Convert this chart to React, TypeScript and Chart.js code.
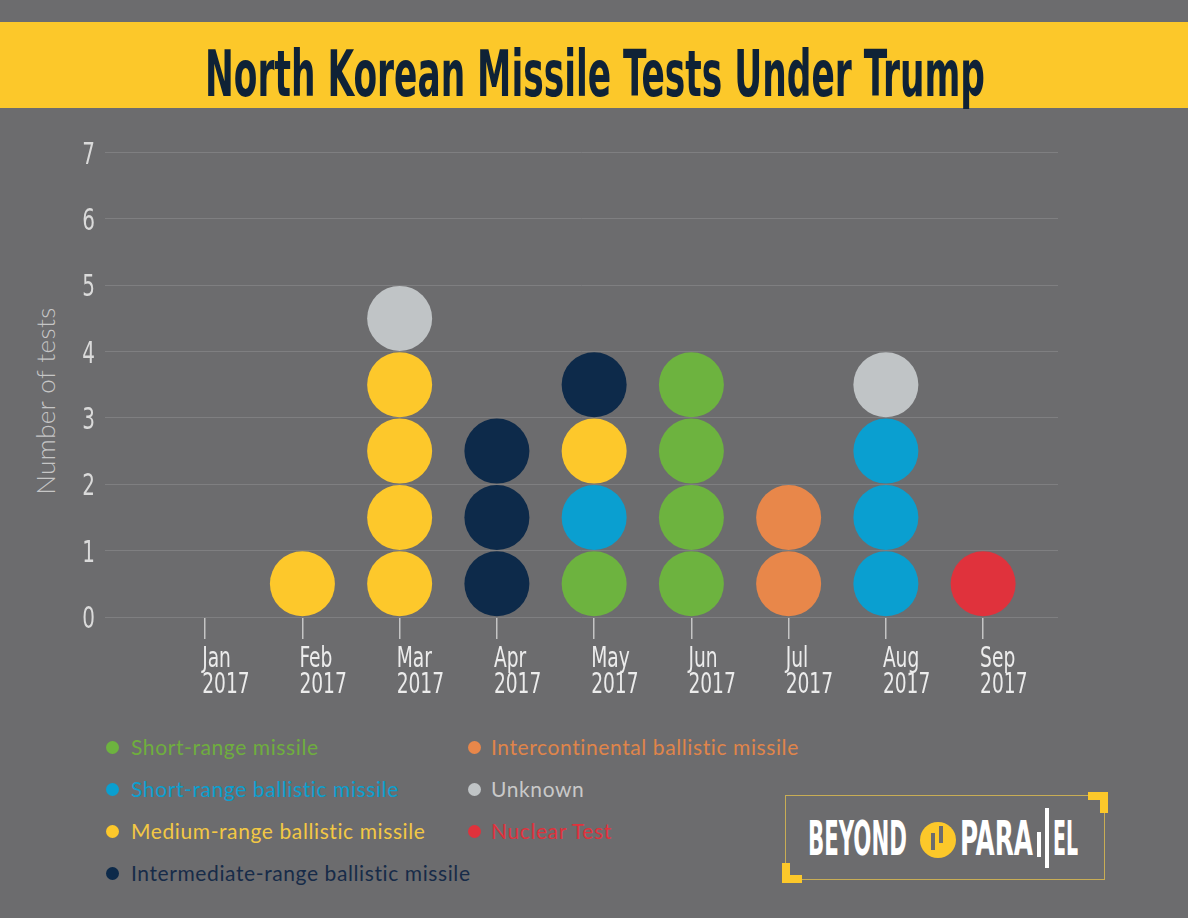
import React, { useEffect, useRef } from 'react';
import { Chart, registerables } from 'chart.js';

Chart.register(...registerables);

// months on the x axis, all in 2017
const months = ['Jan', 'Feb', 'Mar', 'Apr', 'May', 'Jun', 'Jul', 'Aug', 'Sep'];
const year = '2017';

// number of tests per month, per missile type (stacked bottom to top in this order)
const shortRange = [0, 0, 0, 0, 1, 4, 0, 0, 0];
const shortRangeBallistic = [0, 0, 0, 0, 1, 0, 0, 3, 0];
const mediumRange = [0, 1, 4, 0, 1, 0, 0, 0, 0];
const intermediateRange = [0, 0, 0, 3, 1, 0, 0, 0, 0];
const intercontinental = [0, 0, 0, 0, 0, 0, 2, 0, 0];
const unknown = [0, 0, 1, 0, 0, 0, 0, 1, 0];
const nuclear = [0, 0, 0, 0, 0, 0, 0, 0, 1];

const yMax = 7;

const series = [
  { label: 'Short-range missile', values: shortRange, color: '#6db33f', text: '#6fae3e' },
  { label: 'Short-range ballistic missile', values: shortRangeBallistic, color: '#0a9fd0', text: '#0b9fcf' },
  { label: 'Medium-range ballistic missile', values: mediumRange, color: '#fdc82b', text: '#f3c844' },
  { label: 'Intermediate-range ballistic missile', values: intermediateRange, color: '#0d2a4a', text: '#172b48' },
  { label: 'Intercontinental ballistic missile', values: intercontinental, color: '#e8874a', text: '#e0854a' },
  { label: 'Unknown', values: unknown, color: '#c0c4c6', text: '#c9c9c9' },
  { label: 'Nuclear Test', values: nuclear, color: '#e0323c', text: '#e0323c' },
];

const COND = '"Liberation Sans Narrow", "DejaVu Sans Condensed", "Roboto Condensed", "Liberation Sans", sans-serif';
const ROUND = 'Lato, "Open Sans", sans-serif';
const SQUEEZE = 0.74;

document.body.style.margin = '0';

function stackPoints() {
  const base = months.map(() => 0);
  return series.map((s) => {
    const pts: { x: number; y: number }[] = [];
    s.values.forEach((n, i) => {
      for (let k = 0; k < n; k++) {
        pts.push({ x: i, y: base[i] + 0.5 });
        base[i] += 1;
      }
    });
    return pts;
  });
}

function textWidth(text: string, font: string) {
  const ctx = document.createElement('canvas').getContext('2d')!;
  ctx.font = font;
  return ctx.measureText(text).width;
}

// squeezes a line of text horizontally to a given width
const Fit = ({ text, font, width, left, top, color, lh }) => {
  const k = width / textWidth(text, font);
  return (
    <div
      style={{
        position: 'absolute', left, top, font, color, lineHeight: lh + 'px',
        whiteSpace: 'nowrap', transform: `scaleX(${k})`, transformOrigin: 'left top',
      }}
    >
      {text}
    </div>
  );
};

// no condensed face is installed, so the tick labels are drawn narrowed by hand
const narrowTicks = {
  id: 'narrowTicks',
  afterDraw(chart) {
    const { ctx } = chart;
    const xs = chart.scales.x;
    const ys = chart.scales.y;
    const put = (text: string, x: number, y: number, align: CanvasTextAlign) => {
      ctx.save();
      ctx.translate(x, y);
      ctx.scale(SQUEEZE, 1);
      ctx.textAlign = align;
      ctx.textBaseline = 'alphabetic';
      ctx.fillText(text, 0, 0);
      ctx.restore();
    };
    ctx.save();
    ctx.fillStyle = '#ececec';
    ctx.font = `28px ${COND}`;
    xs.ticks.forEach((t) => {
      const px = xs.getPixelForValue(t.value);
      put(months[t.value], px - 3, xs.top + 50, 'left');
      put(year, px - 3, xs.top + 76, 'left');
    });
    ctx.fillStyle = '#dadada';
    ctx.font = `30px ${COND}`;
    ys.ticks.forEach((t) => {
      put(String(t.value), ys.right - 10, ys.getPixelForValue(t.value) + 11, 'right');
    });
    ctx.restore();
  },
};

const MissileChart = () => {
  const chartRef = useRef<HTMLCanvasElement>(null);

  useEffect(() => {
    const pts = stackPoints();
    const chart = new Chart(chartRef.current!, {
      type: 'scatter',
      data: {
        datasets: series.map((s, j) => ({
          label: s.label,
          data: pts[j],
          backgroundColor: s.color,
          borderWidth: 0,
          pointRadius: 32.5,
          pointHoverRadius: 32.5,
          clip: false,
        })),
      },
      options: {
        animation: false,
        responsive: false,
        events: [],
        layout: { padding: { top: 30, right: 130, left: 0, bottom: 0 } },
        plugins: { legend: { display: false }, tooltip: { enabled: false } },
        scales: {
          x: {
            type: 'linear',
            min: -1.03,
            max: 8.77,
            afterBuildTicks: (s) => { s.ticks = months.map((_, i) => ({ value: i })); },
            afterFit: (s) => { s.height = 103; },
            border: { display: false },
            grid: { drawOnChartArea: false, drawTicks: true, tickLength: 22, color: '#c4c4c4', lineWidth: 1.5 },
            ticks: { display: false },
          },
          y: {
            min: 0,
            max: yMax,
            afterFit: (s) => { s.width = 105; },
            border: { display: false },
            grid: { color: '#7f7f81', drawTicks: false, lineWidth: 1 },
            ticks: { stepSize: 1, display: false },
          },
        },
      },
      plugins: [narrowTicks],
    });
    return () => chart.destroy();
  }, []);

  return <canvas ref={chartRef} width={1188} height={600} style={{ position: 'absolute', left: 0, top: 120 }} />;
};

const legendRows = [747, 789, 831, 873];

const Legend = () => (
  <>
    {series.map((s, i) => {
      const col = i < 4 ? 0 : 1;
      const y = legendRows[col ? i - 4 : i];
      const dotX = col ? 474 : 112;
      const textX = col ? 491 : 131;
      return (
        <React.Fragment key={s.label}>
          <div style={{ position: 'absolute', left: dotX - 6.5, top: y - 6.5, width: 13, height: 13, borderRadius: '50%', background: s.color }} />
          <div style={{ position: 'absolute', left: textX, top: y - 13, font: `21px ${ROUND}`, letterSpacing: '0.6px', lineHeight: '26px', color: s.text, whiteSpace: 'nowrap' }}>
            {s.label}
          </div>
        </React.Fragment>
      );
    })}
  </>
);

const Logo = () => (
  <>
    <div style={{ position: 'absolute', left: 785, top: 795, width: 320, height: 85, border: '1.5px solid #c8ad55', boxSizing: 'border-box' }} />
    <div style={{ position: 'absolute', left: 1088, top: 792, width: 20, height: 8, background: '#fcc82a' }} />
    <div style={{ position: 'absolute', left: 1100, top: 792, width: 8, height: 21, background: '#fcc82a' }} />
    <div style={{ position: 'absolute', left: 782, top: 863, width: 8, height: 20, background: '#fcc82a' }} />
    <div style={{ position: 'absolute', left: 782, top: 875, width: 20, height: 8, background: '#fcc82a' }} />
    <Fit text="BEYOND" font={`bold 48px ${COND}`} width={99} left={808} top={814} color="#ffffff" lh={48} />
    <div style={{ position: 'absolute', left: 920, top: 822, width: 36, height: 36, borderRadius: '50%', background: '#fcc82a' }} />
    <div style={{ position: 'absolute', left: 931, top: 833, width: 4, height: 17, background: '#6c6c6e' }} />
    <div style={{ position: 'absolute', left: 939, top: 826, width: 4, height: 17, background: '#6c6c6e' }} />
    <Fit text="PARA" font={`bold 48px ${COND}`} width={73} left={960} top={814} color="#ffffff" lh={48} />
    <div style={{ position: 'absolute', left: 1037, top: 832, width: 4, height: 25, background: '#ffffff' }} />
    <div style={{ position: 'absolute', left: 1045, top: 808, width: 4, height: 60, background: '#ffffff' }} />
    <Fit text="EL" font={`bold 48px ${COND}`} width={25} left={1053} top={814} color="#ffffff" lh={48} />
  </>
);

const App = () => (
  <div style={{ position: 'relative', width: 1188, height: 918, background: '#6c6c6e', overflow: 'hidden' }}>
    <div style={{ position: 'absolute', left: 0, top: 22, width: 1188, height: 86, background: '#fcc82a' }} />
    <Fit text="North Korean Missile Tests Under Trump" font={`bold 64px ${COND}`} width={780} left={205} top={42} color="#0f2236" lh={64} />
    <div
      style={{
        position: 'absolute', left: 45, top: 401, font: `300 26px ${ROUND}`, letterSpacing: '0.4px', color: '#c6c6c6',
        whiteSpace: 'nowrap', transform: 'translate(-50%, -50%) rotate(-90deg)',
      }}
    >
      Number of tests
    </div>
    <MissileChart />
    <Legend />
    <Logo />
  </div>
);

export default App;
